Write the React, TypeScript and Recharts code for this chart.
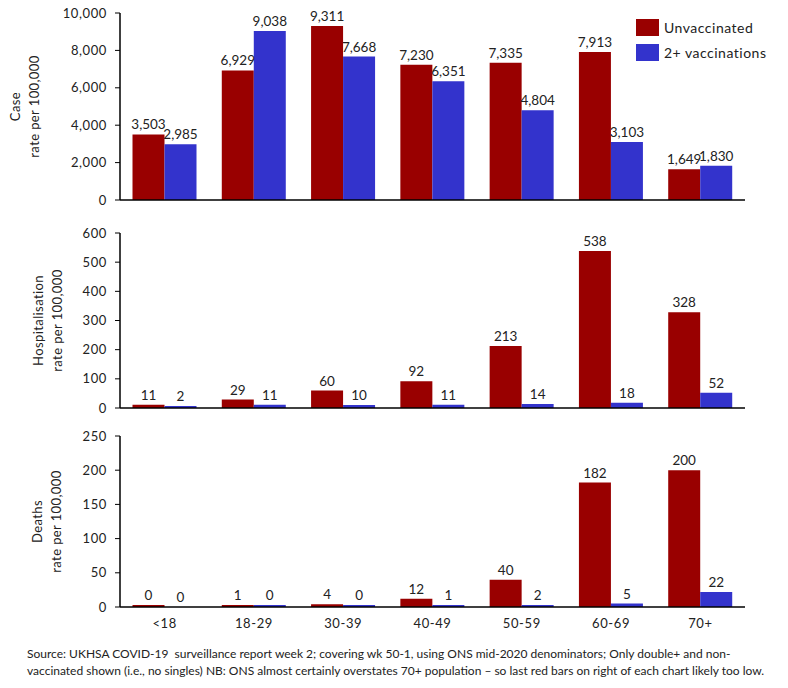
import React from 'react';
import { BarChart, Bar, XAxis, YAxis, LabelList, Label } from 'recharts';

const AGE_GROUPS = ['<18', '18-29', '30-39', '40-49', '50-59', '60-69', '70+'];

const CASES_UNVAX = [3503, 6929, 9311, 7230, 7335, 7913, 1649];
const CASES_VAX = [2985, 9038, 7668, 6351, 4804, 3103, 1830];

const HOSP_UNVAX = [11, 29, 60, 92, 213, 538, 328];
const HOSP_VAX = [2, 11, 10, 11, 14, 18, 52];

// small fractions so the near-zero bars show as in the source chart
const DEATHS_UNVAX = [0.4, 1.1, 4, 12, 40, 182, 200];
const DEATHS_VAX = [0.05, 0.3, 0.3, 1, 2, 5, 22];

const CASE_TICKS = [0, 2000, 4000, 6000, 8000, 10000];
const HOSP_TICKS = [0, 100, 200, 300, 400, 500, 600];
const DEATH_TICKS = [0, 50, 100, 150, 200, 250];

const RED = '#990000';
const BLUE = '#3333CC';
const FONT = 'Lato, "Open Sans", sans-serif';

const makeRows = (a: number[], b: number[]) =>
  AGE_GROUPS.map((age, i) => ({ age, unvax: a[i], vax: b[i] }));

const fmt = (v: any) => Math.round(Number(v)).toLocaleString('en-US');
const minSize = (v: any) => (Number(v) >= 0.2 ? 2 : 0);

const tickStyle = { fill: '#222', fontSize: 13, fontFamily: FONT, letterSpacing: 0.6 };
const valueStyle = { fill: '#222', fontSize: 13.5, fontFamily: FONT, letterSpacing: 0 };

function yLabel(lines: string[], x: number) {
  return (props: any) => {
    const vb = props.viewBox || {};
    const cy = vb.y + vb.height / 2;
    return (
      <g>
        {lines.map((t, i) => (
          <text
            key={t}
            x={x + i * 19}
            y={cy}
            transform={`rotate(-90, ${x + i * 19}, ${cy})`}
            textAnchor="middle"
            dominantBaseline="central"
            fontSize={13}
            fontFamily={FONT}
            letterSpacing={0.4}
            fill="#222"
          >
            {t}
          </text>
        ))}
      </g>
    );
  };
}

function LegendBox() {
  const items = [
    { name: 'Unvaccinated', color: RED },
    { name: '2+ vaccinations', color: BLUE },
  ];
  return (
    <div
      style={{
        position: 'absolute',
        left: 636,
        top: 15,
        fontFamily: FONT,
        fontSize: 14,
        color: '#222',
        letterSpacing: 0.5,
      }}
    >
      {items.map((it) => (
        <div key={it.name} style={{ display: 'flex', alignItems: 'center', height: 25 }}>
          <span style={{ width: 23, height: 17, background: it.color, marginRight: 5 }} />
          {it.name}
        </div>
      ))}
    </div>
  );
}

type PanelProps = {
  top: number;
  height: number;
  marginTop: number;
  rows: { age: string; unvax: number; vax: number }[];
  ticks: number[];
  label: string[];
  labelX: number;
  showX?: boolean;
};

function Panel({ top, height, marginTop, rows, ticks, label, labelX, showX }: PanelProps) {
  return (
    <div style={{ position: 'absolute', left: 0, top }}>
      <BarChart
        width={788}
        height={height}
        data={rows}
        margin={{ top: marginTop, right: 43, left: 0, bottom: 0 }}
        barCategoryGap="14%"
        barGap={0}
      >
        <XAxis
          dataKey="age"
          axisLine={{ stroke: '#000', strokeWidth: 1.5 }}
          tickLine={false}
          tick={showX ? tickStyle : false}
          height={showX ? 34 : 10}
          tickMargin={6}
          interval={0}
        />
        <YAxis
          width={120}
          domain={[ticks[0], ticks[ticks.length - 1]]}
          ticks={ticks}
          interval={0}
          axisLine={{ stroke: '#000', strokeWidth: 1.5 }}
          tickLine={{ stroke: '#000' }}
          tickSize={5}
          tickMargin={8}
          tick={tickStyle}
          tickFormatter={(v) => Number(v).toLocaleString('en-US')}
        >
          <Label content={yLabel(label, labelX)} />
        </YAxis>
        <Bar dataKey="unvax" fill={RED} isAnimationActive={false} minPointSize={minSize}>
          <LabelList dataKey="unvax" position="top" formatter={fmt} style={valueStyle} />
        </Bar>
        <Bar dataKey="vax" fill={BLUE} isAnimationActive={false} minPointSize={minSize}>
          <LabelList dataKey="vax" position="top" formatter={fmt} style={valueStyle} />
        </Bar>
      </BarChart>
    </div>
  );
}

export default function App() {
  return (
    <div style={{ position: 'absolute', left: 0, top: 0, width: 788, height: 688, background: '#fff' }}>
      <Panel
        top={0}
        height={210}
        marginTop={13}
        rows={makeRows(CASES_UNVAX, CASES_VAX)}
        ticks={CASE_TICKS}
        label={['Case', 'rate per 100,000']}
        labelX={15}
      />
      <Panel
        top={215}
        height={203}
        marginTop={18}
        rows={makeRows(HOSP_UNVAX, HOSP_VAX)}
        ticks={HOSP_TICKS}
        label={['Hospitalisation', 'rate per 100,000']}
        labelX={38}
      />
      <Panel
        top={420}
        height={221}
        marginTop={16}
        rows={makeRows(DEATHS_UNVAX, DEATHS_VAX)}
        ticks={DEATH_TICKS}
        label={['Deaths', 'rate per 100,000']}
        labelX={37}
        showX
      />
      <LegendBox />
      <div
        style={{
          position: 'absolute',
          left: 27,
          top: 645,
          width: 760,
          fontFamily: FONT,
          fontSize: 12,
          lineHeight: '17px',
          color: '#222',
          whiteSpace: 'nowrap',
        }}
      >
        Source: UKHSA COVID-19&nbsp; surveillance report week 2; covering wk 50-1, using ONS mid-2020
        denominators; Only double+ and non-
        <br />
        vaccinated shown (i.e., no singles) NB: ONS almost certainly overstates 70+ population – so last
        red bars on right of each chart likely too low.
      </div>
    </div>
  );
}
